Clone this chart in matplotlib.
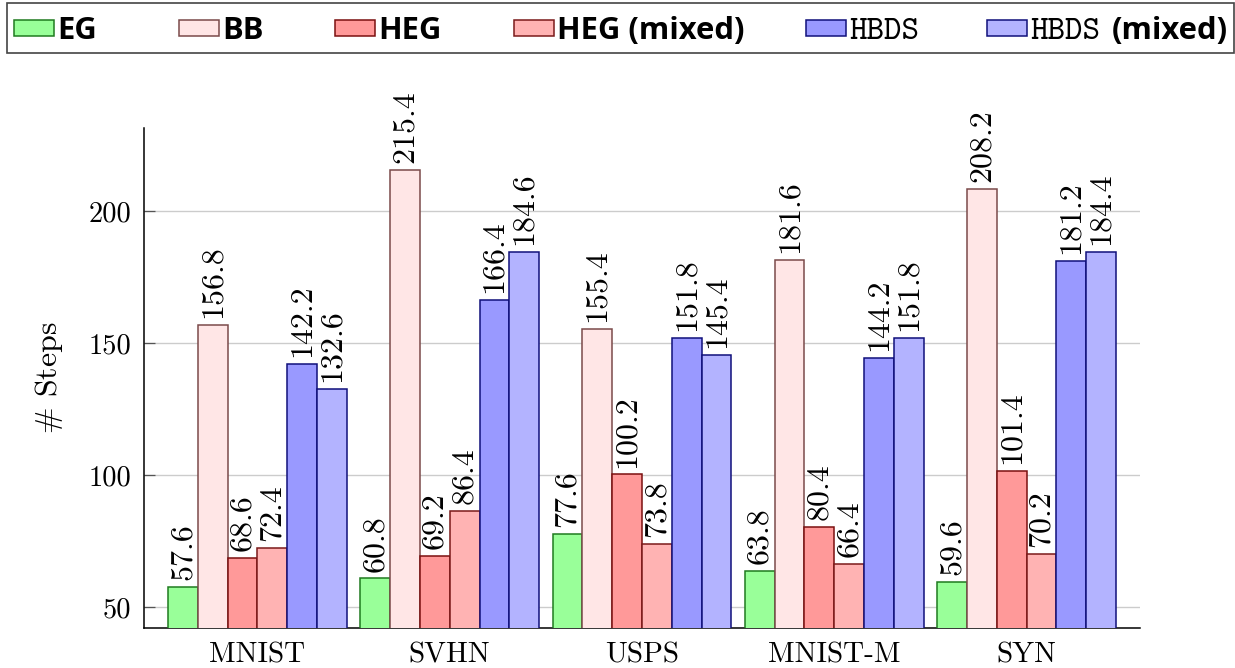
import numpy as np
import matplotlib
matplotlib.use("Agg")
import matplotlib.pyplot as plt
from matplotlib.patches import Rectangle

plt.rcParams['mathtext.fontset'] = 'cm'
plt.rcParams['axes.formatter.use_mathtext'] = True

# Data
datasets = ["MNIST", "SVHN", "USPS", "MNIST-M", "SYN"]
series_names = ["EG", "BB", "HEG", "HEG (mixed)", "HBDS", "HBDS (mixed)"]
eg = [57.6, 60.8, 77.6, 63.8, 59.6]
bb = [156.8, 215.4, 155.4, 181.6, 208.2]
heg = [68.6, 69.2, 100.2, 80.4, 101.4]
heg_mixed = [72.4, 86.4, 73.8, 66.4, 70.2]
hbds = [142.2, 166.4, 151.8, 144.2, 181.2]
hbds_mixed = [132.6, 184.6, 145.4, 151.8, 184.4]
yticks = [50, 100, 150, 200]

series = [eg, bb, heg, heg_mixed, hbds, hbds_mixed]
fills = ["#99ff99", "#ffe6e6", "#ff9999", "#ffb3b3", "#9999ff", "#b3b3ff"]
edges = ["#1f7a1f", "#7a4a4a", "#7a0f0f", "#7a1a1a", "#10107a", "#10107a"]

W, H = 1235, 668
fig = plt.figure(figsize=(W / 100, H / 100), dpi=100)
ax = fig.add_axes([144 / W, 1 - 628 / H, (1140 - 144) / W, (628 - 128) / H])

x = np.arange(len(datasets))
n = len(series)
w = 0.155
serif = ['cmr10', 'DejaVu Serif']
fs_bar = 23
fs_tick = 20.5

for i, (vals, fc, ec) in enumerate(zip(series, fills, edges)):
    pos = x + (i - (n - 1) / 2) * w
    bars = ax.bar(pos, vals, width=w, color=fc, edgecolor=ec, linewidth=1.1,
                  label=series_names[i], zorder=3)
    for b, v in zip(bars, vals):
        ax.annotate(f"{v:.1f}", (b.get_x() + b.get_width() / 2, v),
                    xytext=(0, 5), textcoords="offset points",
                    rotation=90, ha="center", va="bottom",
                    fontsize=fs_bar, family=serif, zorder=4)

ax.set_xlim(-0.59, 4.59)
ax.set_ylim(42.05, 231.4)
ax.set_xticks(x)
ax.set_xticklabels(datasets, family=serif, fontsize=fs_tick + 0.5)
ax.set_yticks(yticks)
ax.set_yticklabels([str(t) for t in yticks], family=serif, fontsize=fs_tick)
ax.tick_params(axis='x', length=0, pad=10)
ax.tick_params(axis='y', direction='in', length=8, width=0.9, color='#555555', pad=9)
ax.grid(axis='y', color='#cccccc', linewidth=1.0, zorder=0)
ax.set_axisbelow(True)
for s in ['top', 'right']:
    ax.spines[s].set_visible(False)
for s in ['left', 'bottom']:
    ax.spines[s].set_linewidth(1.1)
    ax.spines[s].set_color('black')

ax.set_ylabel(r"$\#$ Steps", family=serif, fontsize=23, labelpad=17)

# Legend box drawn in pixel coordinates along the top of the figure
def px(xp, yp):
    return xp / W, 1 - yp / H

fig.patches.append(Rectangle(px(7, 53), 1227 / W, 50 / H, transform=fig.transFigure,
                             facecolor='white', edgecolor='#444444', linewidth=1.2))
text_x = [57, 222, 378, 557, 849, 1030]
patch_w, patch_h = 40, 16
bold = dict(family=['Open Sans', 'DejaVu Sans'], weight='bold', size=22.3)
tt = dict(family=['cmtt10', 'DejaVu Sans Mono'], size=24)
baseline = 39
for i in range(n):
    fig.patches.append(Rectangle(px(text_x[i] - 3 - patch_w, 36), patch_w / W, patch_h / H,
                                 transform=fig.transFigure, facecolor=fills[i],
                                 edgecolor=edges[i], linewidth=1.1))
    name = series_names[i]
    if name.startswith("HBDS"):
        fig.text(*px(text_x[i], baseline), "HBDS", va='baseline', ha='left', **tt)
        if "(mixed)" in name:
            fig.text(*px(1112, baseline), "(mixed)", va='baseline', ha='left', **bold)
    else:
        fig.text(*px(text_x[i], baseline), name, va='baseline', ha='left', **bold)

fig.savefig("out.png", dpi=100)
